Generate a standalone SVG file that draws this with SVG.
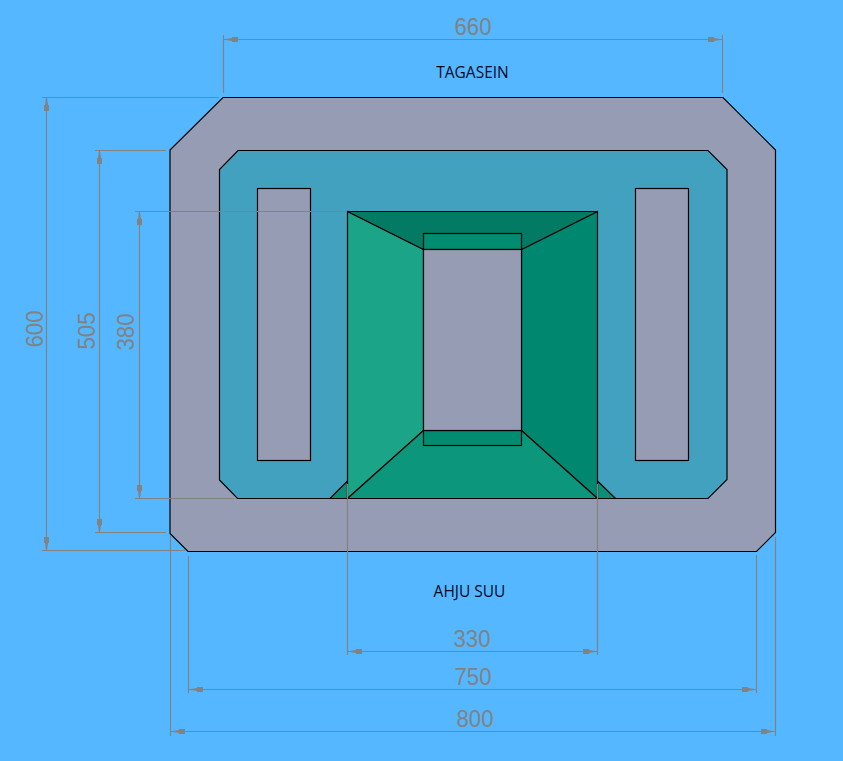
<svg xmlns="http://www.w3.org/2000/svg" width="843" height="761" viewBox="0 0 843 761">
<style>
.k{stroke:#000;stroke-width:1.2;stroke-linejoin:miter}
.g{fill:#959cb3}
.d{stroke:#828282;stroke-width:1.2;fill:none}
.n{font-family:"Liberation Sans",Arial,sans-serif;font-size:24px;fill:#828282;text-anchor:middle}
.l{font-family:"Open Sans","Liberation Sans",sans-serif;font-size:15.500px;fill:#0a0a28;text-anchor:middle}
</style>
<defs>
<g id="ah"><path d="M2 -0.600 L8 -1.500 L8 -2.500 L14 -2.500 L14 2.500 L8 2.500 L8 1.500 L2 0.600 Z" fill="#828282"/></g>
</defs>
<rect width="843" height="761" fill="#54b7ff"/>
<g id="body">
<path class="k g" d="M223 97.500H723L775.500 150V532.500L756.500 551.500H188L170 533.500V150Z"/>
</g>
<g id="channel">
<path class="k" fill="#43a1c0" d="M238 150.500H708L727 169.500V479.500L708 498.500H237.500L219.500 480V169.500Z"/>
</g>
<g id="slot-left"><rect class="k g" x="257.500" y="188.500" width="53" height="272"/></g>
<g id="slot-right"><rect class="k g" x="635.500" y="188.500" width="53" height="272"/></g>
<g id="firebox">
<path class="k" fill="#0c8f78" d="M347.500 481L330 498.500H347.500Z"/>
<path class="k" fill="#0c8f78" d="M597.500 481L615.500 498.500H597.500Z"/>
<path class="k" fill="#1ba488" d="M347.500 211.500L423.500 249.500V430.500L347.500 498.500Z"/>
<path class="k" fill="#00876f" d="M597.500 211.500L521.500 249.500V430.500L597.500 498.500Z"/>
<path class="k" fill="#027a64" d="M347.500 211.500H597.500L521.500 249.500H423.500Z"/>
<path class="k" fill="#0c967b" d="M423.500 430.500H521.500L597.500 498.500H347.500Z"/>
<rect class="k" fill="#008c71" x="423.500" y="233.500" width="98" height="16"/>
<rect class="k" fill="#008c71" x="423.500" y="430.500" width="98" height="15"/>
<rect class="k g" x="423.500" y="249.500" width="98" height="181"/>
</g>
<g id="connectors">
<path class="d" d="M223.500 35V93M722.500 35V93M223.500 39.500H722.500"/>
<use href="#ah" transform="translate(224 39.500)"/>
<use href="#ah" transform="translate(722 39.500) rotate(180)"/>
<path class="d" d="M42 97.500H219M46.500 97.500V550.500M42 550.500H185"/>
<use href="#ah" transform="translate(46.500 97) rotate(90)"/>
<use href="#ah" transform="translate(46.500 551) rotate(-90)"/>
<path class="d" d="M95 150.500H166M99.500 150.500V532.500M95 532.500H166"/>
<use href="#ah" transform="translate(99.500 150) rotate(90)"/>
<use href="#ah" transform="translate(99.500 533) rotate(-90)"/>
<path class="d" d="M135 211.500H343M139.500 211.500V498.500M135 498.500H234"/>
<use href="#ah" transform="translate(139.500 211) rotate(90)"/>
<use href="#ah" transform="translate(139.500 499) rotate(-90)"/>
<path class="d" d="M347.500 484V655M597.500 484V655M347.500 651.500H597.500"/>
<use href="#ah" transform="translate(348 651.500)"/>
<use href="#ah" transform="translate(597 651.500) rotate(180)"/>
<path class="d" d="M188.500 556V693M756.500 555V693M188.500 689.500H756.500"/>
<use href="#ah" transform="translate(189 689.500)"/>
<use href="#ah" transform="translate(756 689.500) rotate(180)"/>
<path class="d" d="M170.500 535V736M775.500 537V736M170.500 731.500H775.500"/>
<use href="#ah" transform="translate(171 731.500)"/>
<use href="#ah" transform="translate(775 731.500) rotate(180)"/>
</g>
<g id="labels">
<text class="n" x="473" y="34.500" textLength="37" lengthAdjust="spacingAndGlyphs">660</text>
<text class="n" x="472" y="647" textLength="37" lengthAdjust="spacingAndGlyphs">330</text>
<text class="n" x="473" y="685" textLength="37" lengthAdjust="spacingAndGlyphs">750</text>
<text class="n" x="475" y="727" textLength="37" lengthAdjust="spacingAndGlyphs">800</text>
<text class="n" transform="translate(43 329) rotate(-90)" textLength="37" lengthAdjust="spacingAndGlyphs">600</text>
<text class="n" transform="translate(95 331) rotate(-90)" textLength="37" lengthAdjust="spacingAndGlyphs">505</text>
<text class="n" transform="translate(134 332) rotate(-90)" textLength="37" lengthAdjust="spacingAndGlyphs">380</text>
<text class="l" x="472.500" y="77.500">TAGASEIN</text>
<text class="l" x="469.500" y="596.500">AHJU SUU</text>
</g>
</svg>
